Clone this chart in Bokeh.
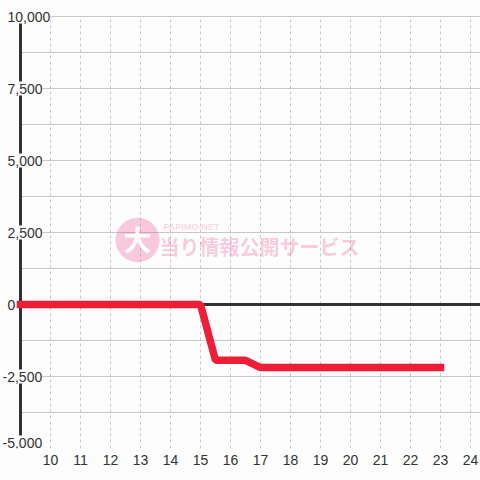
from bokeh.plotting import figure
from bokeh.models import Label, FixedTicker, Range1d, BoxAnnotation
from bokeh.embed import file_html
from bokeh.resources import INLINE

# ---- data ----
hours = [9, 10, 11, 12, 13, 14, 15, 15.5, 16, 16.5, 17, 18, 19, 20, 21, 22, 23]
diff = [0, 0, 0, 0, 0, 0, 0, -1940, -1940, -1940, -2190, -2190, -2190, -2190, -2190, -2190, -2190]
x_ticks = [10, 11, 12, 13, 14, 15, 16, 17, 18, 19, 20, 21, 22, 23, 24]
y_ticks = [-5000, -2500, 0, 2500, 5000, 7500, 10000]
y_tick_labels = ["-5,000", "-2,500", "0", "2,500", "5,000", "7,500", "10,000"]
y_grid = [-5000, -3750, -2500, -1250, 0, 1250, 2500, 3750, 5000, 6250, 7500, 8750, 10000]
x_axis_at = 9
x_min, x_max = 8.3333, 24.3333
y_lo, y_hi = -5000, 10000          # value axis extent
y_view_top = 10555.6               # headroom so the top label is not clipped

BG = "#fcfdfc"
INK = "#333333"
GRID = "#c8c8c8"
RED = "#ec1f36"
FONT = "Liberation Sans"
FS = "14px"
W, H, BOTTOM = 480, 480, 32

p = figure(width=W, height=H, output_backend="svg", toolbar_location=None,
           x_range=Range1d(x_min, x_max), y_range=Range1d(y_lo, y_view_top),
           y_axis_location=None,
           min_border_left=0, min_border_right=0, min_border_top=0, min_border_bottom=BOTTOM,
           background_fill_color=BG, border_fill_color=BG, outline_line_color=None)

# grids
p.xgrid.visible = False
p.segment(x0=x_ticks, y0=[y_lo] * len(x_ticks), x1=x_ticks, y1=[y_hi] * len(x_ticks),
          line_color=GRID, line_width=1, line_dash="3 3", level="underlay")
p.ygrid.ticker = FixedTicker(ticks=y_grid)
p.ygrid.grid_line_color = GRID
p.ygrid.grid_line_width = 1

# x axis
xa = p.xaxis[0]
xa.ticker = FixedTicker(ticks=x_ticks)
xa.axis_line_color = None
xa.major_tick_line_color = None
xa.minor_tick_line_color = None
xa.major_tick_in = 0
xa.major_tick_out = 0
xa.major_label_standoff = 6
xa.major_label_text_font = FONT
xa.major_label_text_font_size = FS
xa.major_label_text_color = INK

# blank strip left of the axis (hides grid there)
p.add_layout(BoxAnnotation(right=x_axis_at, fill_color=BG, fill_alpha=1, line_color=None, level="underlay"))

# watermark
PINK = "#f05096"
p.add_layout(Label(x=137, y=214, x_units="screen", y_units="screen", text="●",
                   text_font="DejaVu Sans", text_font_size="58px", text_color=PINK,
                   text_alpha=0.3, text_align="center", text_baseline="middle", level="underlay"))
p.add_layout(Label(x=137, y=210, x_units="screen", y_units="screen", text="大",
                   text_font="Noto Sans CJK JP", text_font_size="28px", text_font_style="bold",
                   text_color=BG, text_align="center", text_baseline="middle", level="underlay"))
p.add_layout(Label(x=159, y=202, x_units="screen", y_units="screen", text="当り情報公開サービス",
                   text_font="Noto Sans CJK JP", text_font_size="20px", text_font_style="bold",
                   text_color=PINK, text_alpha=0.3, text_align="left", text_baseline="middle",
                   level="underlay"))
p.add_layout(Label(x=163, y=222, x_units="screen", y_units="screen", text="PAPIMO-NET",
                   text_font=FONT, text_font_size="9px", text_font_style="bold",
                   text_color=PINK, text_alpha=0.22, text_align="left", text_baseline="middle",
                   level="underlay"))

# zero line
p.segment(x0=[x_axis_at], y0=[0], x1=[x_max], y1=[0], line_color=INK, line_width=3)

# value axis line, broken where the tick labels sit on it
units_per_px = (y_view_top - y_lo) / (H - BOTTOM)
half_box = 7
y_off = {v: (6 if v == y_lo else 0) for v in y_ticks}
covers = {v: len(t) > 1 for v, t in zip(y_ticks, y_tick_labels)}
seg_lo, seg_hi = [], []
for a, b in zip(y_ticks[:-1], y_ticks[1:]):
    s = a + (y_off[a] + half_box) * units_per_px if covers[a] else a
    e = b + (y_off[b] - half_box) * units_per_px if covers[b] else b
    seg_lo.append(s)
    seg_hi.append(e)
p.segment(x0=[x_axis_at] * len(seg_lo), y0=seg_lo, x1=[x_axis_at] * len(seg_lo), y1=seg_hi,
          line_color=INK, line_width=3)

# data line
p.line(hours, diff, line_color=RED, line_width=7.5, line_cap="square")

# y tick labels
for v, t in zip(y_ticks, y_tick_labels):
    p.add_layout(Label(x=x_axis_at, y=v, text=t,
                       x_offset=-13 if v >= 0 else -18, y_offset=y_off[v],
                       text_font=FONT, text_font_size=FS, text_color=INK,
                       text_align="left", text_baseline="middle",
                       background_fill_color=BG, background_fill_alpha=1.0))

open("out.html", "w").write(file_html(p, INLINE))
